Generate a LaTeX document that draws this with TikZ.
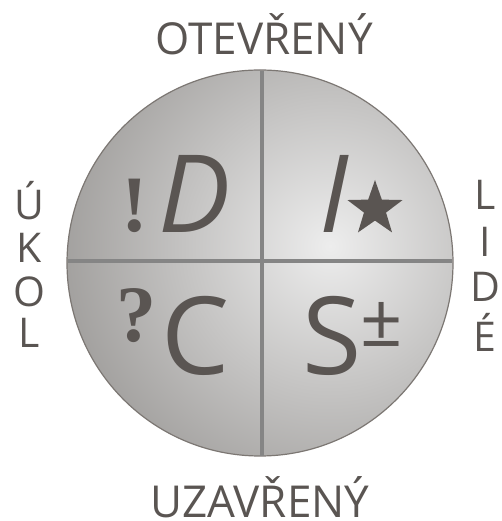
\documentclass[tikz,border=0pt]{standalone}
\usepackage{fontspec}
\setmainfont{Open Sans}
\newfontfamily\serifbang{Liberation Serif}
\usetikzlibrary{shapes.geometric}
\definecolor{txt}{HTML}{5A5552}
\definecolor{divline}{HTML}{858585}
\definecolor{rim}{HTML}{7C7773}
\definecolor{discin}{HTML}{EDEDED}
\definecolor{discout}{HTML}{9C9A98}
\tikzset{
  axislabel/.style={text=txt, inner sep=0pt, anchor=base, text depth=0pt, font=\fontsize{44}{44}\selectfont},
  sideletter/.style={text=txt, inner sep=0pt, anchor=base, font=\fontsize{41}{41}\selectfont},
  bigletter/.style={text=txt, inner sep=0pt, anchor=base, font=\fontsize{108}{108}\selectfont},
  signmark/.style={text=txt, inner sep=0pt, anchor=base, font=\serifbang\bfseries\fontsize{80}{80}\selectfont},
  divider/.style={draw=divline, line width=4pt}
}
\begin{document}
\begin{tikzpicture}[x=1pt,y=1pt]
\useasboundingbox (0,0) rectangle (502,521);
% disc
\coordinate (c) at (260,258);
\begin{scope}
  \clip (c) circle (193);
  \shade[inner color=discin, outer color=discout] (330,275) circle (290);
\end{scope}
\draw[rim, line width=1.2pt] (c) circle (193);
% dividers
\coordinate (vt) at (262,450);
\coordinate (vb) at (262,65);
\coordinate (hl) at (68,260);
\coordinate (hr) at (452,260);
\draw[divider] (vb) -- (vt);
\draw[divider] (hl) -- (hr);
% big letters
\node[bigletter] (D) at (195,288) {\itshape D};
\node[bigletter] (I) at (334,288) {\itshape I};
\node[bigletter] (C) at (196,146) {C};
\node[bigletter] (S) at (332,146) {S};
\node[signmark] (bang) at (135,289) {!};
\node[signmark] (q) at (136,179) {?};
\node[star, star points=5, star point ratio=2.5, fill=txt, inner sep=0pt, minimum size=58pt] (star) at (375,312) {};
\node[text=txt, inner sep=0pt, font=\fontsize{74}{74}\selectfont] (pm) at (382,197) {±};
% labels
\node[axislabel] (top) at (264,466) {OTEVŘENÝ};
\node[axislabel] (bot) at (260,4) {UZAVŘENÝ};
\node[sideletter] (u) at (29,301) {Ú};
\node[sideletter] (k) at (29,258) {K};
\node[sideletter] (o) at (29,214) {O};
\node[sideletter] (l) at (29,173) {L};
\node[sideletter] (l2) at (485,311) {L};
\node[sideletter] (i2) at (485,264) {I};
\node[sideletter] (d2) at (485,219) {D};
\node[sideletter] (e2) at (485,169) {É};
\end{tikzpicture}
\end{document}
